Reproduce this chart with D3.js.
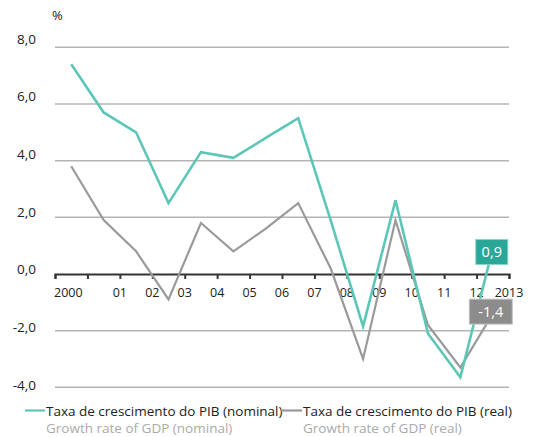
<!DOCTYPE html>
<html>
<head>
<meta charset="utf-8">
<script src="https://cdn.jsdelivr.net/npm/d3@7"></script>
<style>
  body { margin: 0; background: #fff; }
  svg { display: block; font-family: "Open Sans", "DejaVu Sans", sans-serif; }
</style>
</head>
<body>
<svg id="chart" width="533" height="437"></svg>
<script>
const years = [2000,2001,2002,2003,2004,2005,2006,2007,2008,2009,2010,2011,2012,2013];
const nominal = [7.4, 5.7, 5.0, 2.5, 4.3, 4.1, 4.8, 5.5, 1.9, -1.85, 2.6, -2.1, -3.65, 0.9];
const real = [3.8, 1.9, 0.8, -0.9, 1.8, 0.8, 1.6, 2.5, 0.2, -3.0, 1.9, -1.8, -3.3, -1.4];
const tickLabels = ["2000","01","02","03","04","05","06","07","08","09","10","11","12","2013"];
const yTicks = [-4, -2, 0, 2, 4, 6, 8];
const lastLabels = ["0,9", "-1,4"];
const legendMain = ["Taxa de crescimento do PIB (nominal)", "Taxa de crescimento do PIB (real)"];
const legendSub = ["Growth rate of GDP (nominal)", "Growth rate of GDP (real)"];

const colNom = "#5cc6b7", colReal = "#9a9a9a";
const svg = d3.select("#chart");

const xEdge = d3.scaleLinear().domain([0, years.length]).range([55, 509]);
const x = (i) => xEdge(i + 0.5);
const y = d3.scaleLinear().domain([-4, 8]).range([387.3, 47.3]);
const yLab = d3.scaleLinear().domain([-4, 8]).range([385, 39]);
const fmt = (v) => d3.format(".1f")(v).replace(".", ",").replace("−", "-");

// gridlines
svg.append("g").selectAll("line").data(yTicks.filter(v => v !== 0)).join("line")
  .attr("x1", 55).attr("x2", 509).attr("y1", d => y(d)).attr("y2", d => y(d))
  .attr("stroke", "#b4b4b4").attr("stroke-width", 1.5);

// y labels
svg.append("g").selectAll("text").data(yTicks).join("text")
  .attr("x", 36).attr("y", d => yLab(d)).attr("dy", "0.35em")
  .attr("text-anchor", "end").attr("font-size", 13.5).attr("fill", "#222")
  .text(d => fmt(d));
svg.append("text").attr("x", 52).attr("y", 20).attr("font-size", 13).attr("fill", "#222").text("%");

// x axis at zero
const xAxis = d3.axisBottom(xEdge).tickValues(d3.range(years.length + 1)).tickSize(5)
  .tickFormat(() => "");
const ax = svg.append("g").attr("transform", `translate(0,${y(0)})`).call(xAxis);
ax.select(".domain").attr("stroke", "#333").attr("stroke-width", 2);
ax.selectAll(".tick line").attr("stroke", "#333").attr("stroke-width", 2);
svg.append("g").selectAll("text").data(tickLabels).join("text")
  .attr("x", (d, i) => i === 0 ? xEdge(0) - 1 : xEdge(i + 1))
  .attr("y", y(0) + 23)
  .attr("text-anchor", (d, i) => i === 0 ? "start" : "middle")
  .attr("font-size", 12.5).attr("fill", "#222")
  .text(d => d);

// lines
const line = d3.line().x((d, i) => x(i)).y(d => y(d));
svg.append("path").datum(real).attr("d", line).attr("fill", "none")
  .attr("stroke", colReal).attr("stroke-width", 2.2).attr("stroke-linejoin", "miter");
svg.append("path").datum(nominal).attr("d", line).attr("fill", "none")
  .attr("stroke", colNom).attr("stroke-width", 2.6).attr("stroke-linejoin", "miter");

// end labels
const last = years.length - 1;
const boxes = [
  {v: nominal[last], t: lastLabels[0], fill: "#2ba797", stroke: "#8bd3c8", w: 32, dx: -1, dy: 3.5},
  {v: real[last], t: lastLabels[1], fill: "#8c8c8c", stroke: "#c4c4c4", w: 43, dx: -2, dy: -2}
];
boxes.forEach(b => {
  const cx = x(last) + b.dx, cy = y(b.v) + b.dy;
  svg.append("rect").attr("x", cx - b.w / 2).attr("y", cy - 12.5).attr("width", b.w).attr("height", 25)
    .attr("fill", b.fill).attr("stroke", b.stroke).attr("stroke-width", 1);
  svg.append("text").attr("x", cx).attr("y", cy).attr("dy", "0.36em").attr("text-anchor", "middle")
    .attr("font-size", 14.5).attr("fill", "#fff").text(b.t);
});

// legend
const legX = [[25, 45], [281, 302]];
[colNom, colReal].forEach((c, i) => {
  svg.append("line").attr("x1", legX[i][0]).attr("x2", legX[i][1]).attr("y1", 410.5).attr("y2", 410.5)
    .attr("stroke", c).attr("stroke-width", 2.2);
  svg.append("text").attr("x", legX[i][1] + 1).attr("y", 415.5).attr("font-size", 13.5).attr("fill", "#222")
    .text(legendMain[i]);
  svg.append("text").attr("x", legX[i][1] + 1).attr("y", 433).attr("font-size", 13.5).attr("fill", "#aaa")
    .text(legendSub[i]);
});
</script>
</body>
</html>
